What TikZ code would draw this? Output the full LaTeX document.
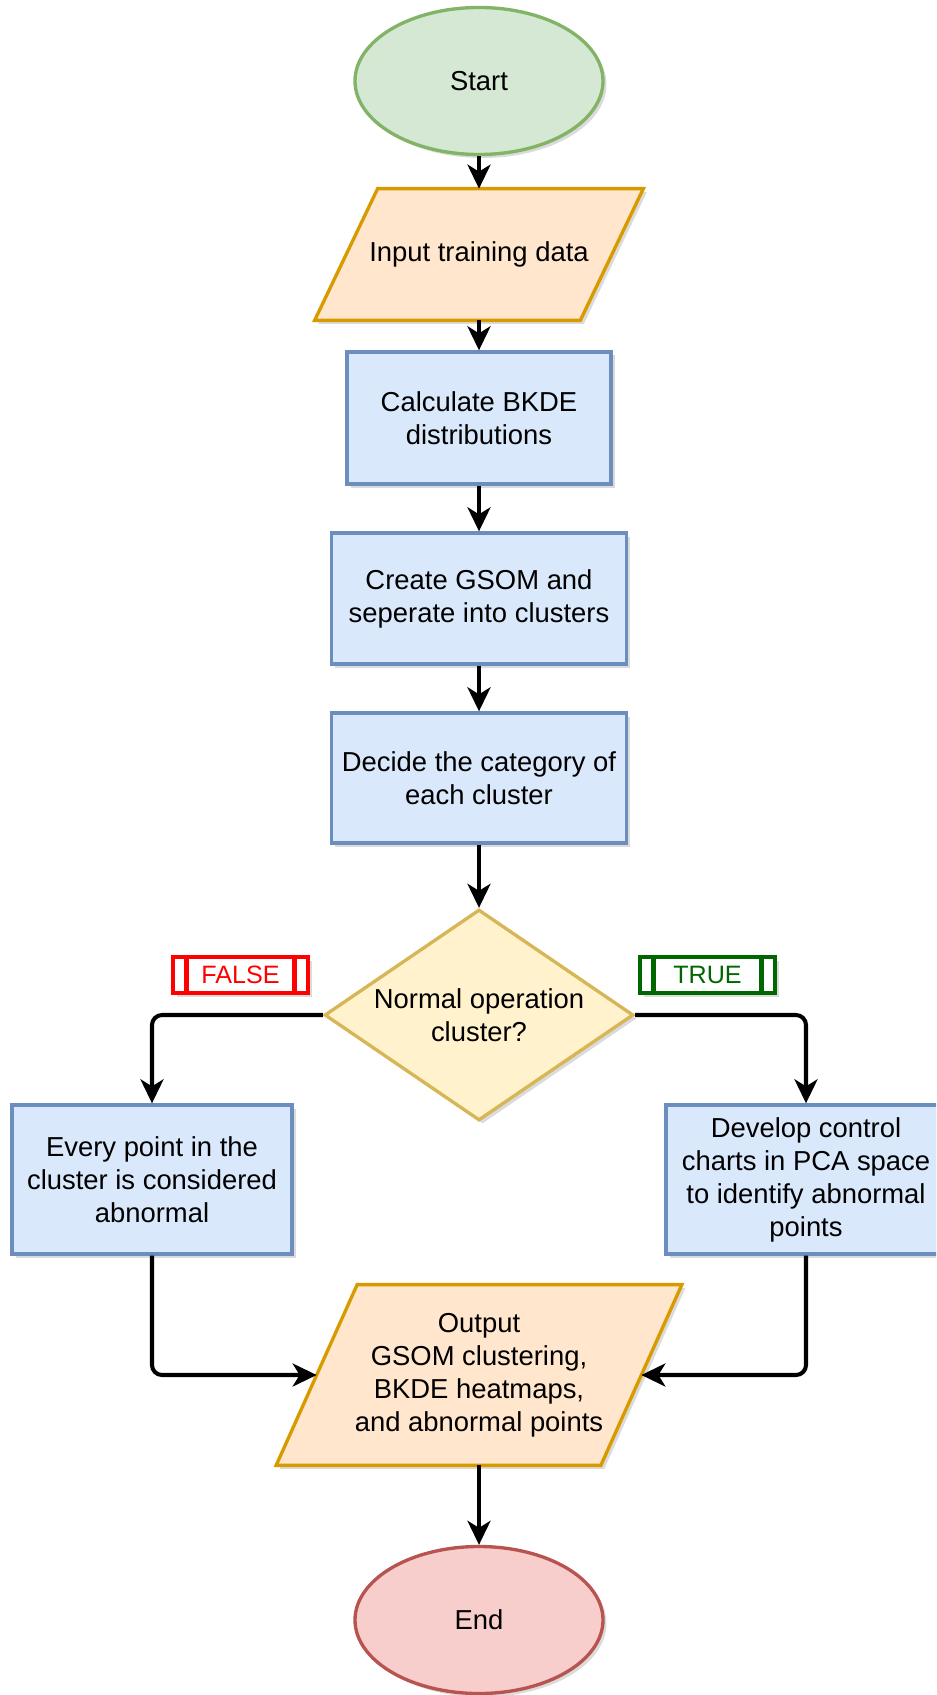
\documentclass[tikz,border=0pt]{standalone}
\usepackage{fontspec}
\setmainfont{Liberation Sans}
\usetikzlibrary{shapes.geometric,arrows.meta,shadows,backgrounds}

\definecolor{ssgreen}{HTML}{D5E8D4}
\definecolor{ssgreenline}{HTML}{82B366}
\definecolor{ssred}{HTML}{F8CECC}
\definecolor{ssredline}{HTML}{B85450}
\definecolor{iofill}{HTML}{FFE6CC}
\definecolor{ioline}{HTML}{D79B00}
\definecolor{procfill}{HTML}{DAE8FC}
\definecolor{procline}{HTML}{6C8EBF}
\definecolor{decfill}{HTML}{FFF2CC}
\definecolor{decline}{HTML}{D6B656}
\definecolor{falsered}{HTML}{FF0000}
\definecolor{truegreen}{HTML}{006600}

\tikzset{
  txt/.style={font=\fontsize{15.6}{18.8}\selectfont, align=center, inner sep=0pt},
  shade/.style={drop shadow={shadow xshift=0.07cm, shadow yshift=-0.07cm, opacity=0.2, fill=black!70}},
  base/.style={txt, line width=1.9pt, shade},
  startstop/.style={base, ellipse, minimum width=4.96cm, minimum height=2.94cm},
  io/.style={txt},
  ioshape/.style={draw=ioline, fill=iofill, line width=1.9pt, line join=miter, shade},
  process/.style={base, rectangle, draw=procline, fill=procfill},
  decision/.style={base, diamond, aspect=1.46, draw=decline, fill=decfill, minimum width=6.18cm, minimum height=4.22cm},
  flag/.style={font=\fontsize{14.3}{17}\selectfont, draw=#1, text=#1, fill=white, line width=2.3pt,
    minimum width=2.7cm, minimum height=0.72cm, inner sep=0pt, shade,
    path picture={\draw[#1, line width=2.3pt]
      ([xshift=0.27cm]path picture bounding box.north west) -- ([xshift=0.27cm]path picture bounding box.south west)
      ([xshift=-0.27cm]path picture bounding box.north east) -- ([xshift=-0.27cm]path picture bounding box.south east);}},
  connector/.style={-{Stealth[length=0.48cm, width=0.46cm, inset=0.14cm]}, line width=2.3pt, rounded corners=0.2cm}
}

\begin{document}
\begin{tikzpicture}
\clip (0,0) rectangle (18.72,-33.9);
\node[startstop, draw=ssgreenline, fill=ssgreen] (start) at (9.58,-1.62) {Start};
\node[io, minimum width=5.3cm, minimum height=2.62cm] (input) at (9.58,-5.09) {Input training data};
\node[process, minimum width=5.28cm, minimum height=2.64cm] (calc) at (9.58,-8.36) {Calculate BKDE\\distributions};
\node[process, minimum width=5.9cm, minimum height=2.62cm] (gsom) at (9.58,-11.97) {Create GSOM and\\seperate into clusters};
\node[process, minimum width=5.9cm, minimum height=2.6cm] (decide) at (9.58,-15.56) {Decide the category of\\each cluster};
\node[decision] (cond) at (9.58,-20.3) {Normal operation\\cluster?};
\node[flag=falsered] (nolabel) at (4.81,-19.5) {FALSE};
\node[flag=truegreen] (yeslabel) at (14.15,-19.5) {TRUE};
\node[process, minimum width=5.6cm, minimum height=2.98cm] (every) at (3.04,-23.59) {Every point in the\\cluster is considered\\abnormal};
\node[process, minimum width=5.6cm, minimum height=2.98cm] (develop) at (16.12,-23.59) {Develop control\\charts in PCA space\\to identify abnormal\\points};
\node[io, minimum width=6.48cm, minimum height=3.6cm] (output) at (9.58,-27.5) {Output\\GSOM clustering,\\BKDE heatmaps,\\ and abnormal points};
\node[startstop, draw=ssredline, fill=ssred] (stop) at (9.58,-32.4) {End};
\begin{scope}[on background layer]
\draw[ioshape] ([xshift=0.63cm]input.north west) -- ([xshift=0.63cm]input.north east)
  -- ([xshift=-0.63cm]input.south east) -- ([xshift=-0.63cm]input.south west) -- cycle;
\draw[ioshape] ([xshift=0.81cm]output.north west) -- ([xshift=0.81cm]output.north east)
  -- ([xshift=-0.81cm]output.south east) -- ([xshift=-0.81cm]output.south west) -- cycle;
\end{scope}
\draw[connector] (start) -- (input);
\draw[connector] (input) -- (calc);
\draw[connector] (calc) -- (gsom);
\draw[connector] (gsom) -- (decide);
\draw[connector] (decide) -- (cond);
\draw[connector] (cond.west) -| (every.north);
\draw[connector] (cond.east) -| (develop.north);
\draw[connector] (every.south) |- (output.west);
\draw[connector] (develop.south) |- (output.east);
\draw[connector] (output) -- (stop);
\end{tikzpicture}
\end{document}
